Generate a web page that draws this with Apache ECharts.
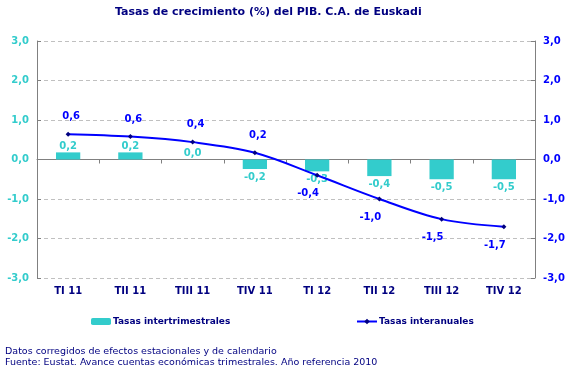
<!DOCTYPE html>
<html><head><meta charset="utf-8">
<script src="https://cdn.jsdelivr.net/npm/echarts@6/dist/echarts.min.js"></script>
<style>html,body{margin:0;padding:0;background:#fff}#c{width:583px;height:380px}</style>
</head><body><div id="c"></div>
<script>
var categories = ['TI 11','TII 11','TIII 11','TIV 11','TI 12','TII 12','TIII 12','TIV 12'];
var intertrimestral = [0.18, 0.18, 0.0, -0.24, -0.3, -0.42, -0.5, -0.5];
var interanual = [0.64, 0.58, 0.44, 0.17, -0.4, -1.0, -1.51, -1.7];
var axisTicks = [-3, -2, -1, 0, 1, 2, 3];
var titleText = 'Tasas de crecimiento (%) del PIB. C.A. de Euskadi';
var footer1 = 'Datos corregidos de efectos estacionales y de calendario';
var footer2 = 'Fuente: Eustat. Avance cuentas económicas trimestrales. Año referencia 2010';

var FONT = '"DejaVu Sans", Verdana, sans-serif';
function fmt(v){ return (Math.round(v*10)/10).toFixed(1).replace('.', ','); }

var chart = echarts.init(document.getElementById('c'), null, {renderer:'canvas'});
var yBase = {
  type:'value', min:axisTicks[0], max:axisTicks[axisTicks.length-1], interval:1,
  axisLine:{show:true, lineStyle:{color:'#808080', width:1}},
  axisTick:{show:true, inside:true, length:4, lineStyle:{color:'#808080'}},
  splitLine:{show:true, lineStyle:{color:'#c0c0c0', type:[4,3]}}
};
chart.setOption({
  animation:false,
  title:{text:titleText, left:115, top:7, padding:0, textStyle:{fontFamily:FONT, fontSize:11, fontWeight:'bold', color:'#000080'}},
  grid:{left:37, right:48, top:41, bottom:102},
  legend:[
    {data:['Tasas intertrimestrales'], left:91, top:317, padding:0, itemWidth:20, itemHeight:7, itemGap:2,
     textStyle:{fontFamily:FONT, fontSize:9, fontWeight:'bold', color:'#000080', padding:[0,0,0,-3]}},
    {data:['Tasas interanuales'], left:356, top:317, padding:0, itemWidth:20, itemHeight:7, itemGap:2,
     textStyle:{fontFamily:FONT, fontSize:9, fontWeight:'bold', color:'#000080', padding:[0,0,0,-3]}}
  ],
  xAxis:[
    {type:'category', data:categories, position:'bottom',
     axisLine:{onZero:true, lineStyle:{color:'#808080'}},
     axisTick:{show:true, length:4, lineStyle:{color:'#808080'}},
     axisLabel:{show:false}, splitLine:{show:false}},
    {type:'category', data:categories, position:'bottom', gridIndex:0,
     axisLine:{show:false, onZero:false}, axisTick:{show:false},
     axisLabel:{show:true, margin:8, fontFamily:FONT, fontSize:10, fontWeight:'bold', color:'#000080'}}
  ],
  yAxis:[
    Object.assign({}, yBase, {position:'left',
      axisLabel:{margin:8, formatter:fmt, fontFamily:FONT, fontSize:10, fontWeight:'bold', color:'#33cccc'}}),
    Object.assign({}, yBase, {position:'right', splitLine:{show:false},
      axisLabel:{margin:8, formatter:fmt, fontFamily:FONT, fontSize:10, fontWeight:'bold', color:'#0000ff'}})
  ],
  series:[
    {name:'Tasas intertrimestrales', type:'bar', xAxisIndex:0, yAxisIndex:0, barWidth:'39%',
     itemStyle:{color:'#33cccc'},
     data:intertrimestral.map(function(v){ return {value:v, label:{position: v<0?'bottom':'top', distance: v<0?3:1}}; }),
     label:{show:true, formatter:function(p){return fmt(p.value);}, fontFamily:FONT, fontSize:10, fontWeight:'bold', color:'#33cccc'}},
    {name:'Tasas interanuales', type:'line', xAxisIndex:0, yAxisIndex:0, smooth:0.35,
     symbol:'diamond', symbolSize:5, lineStyle:{color:'#0000ff', width:2},
     itemStyle:{color:'#000080'},
     data:interanual.map(function(v){ return {value:v, label:{position: v<0?'bottom':'top', offset: v<0?[-9,6]:[3,-5]}}; }),
     label:{show:true, formatter:function(p){return fmt(p.value);}, fontFamily:FONT, fontSize:10, fontWeight:'bold', color:'#0000ff'}}
  ],
  graphic:[
    {type:'text', left:5, top:347, style:{text:footer1, fontFamily:FONT, fontSize:9.5, fill:'#000080'}},
    {type:'text', left:5, top:358, style:{text:footer2, fontFamily:FONT, fontSize:9.5, fill:'#000080'}}
  ]
});
</script></body></html>
